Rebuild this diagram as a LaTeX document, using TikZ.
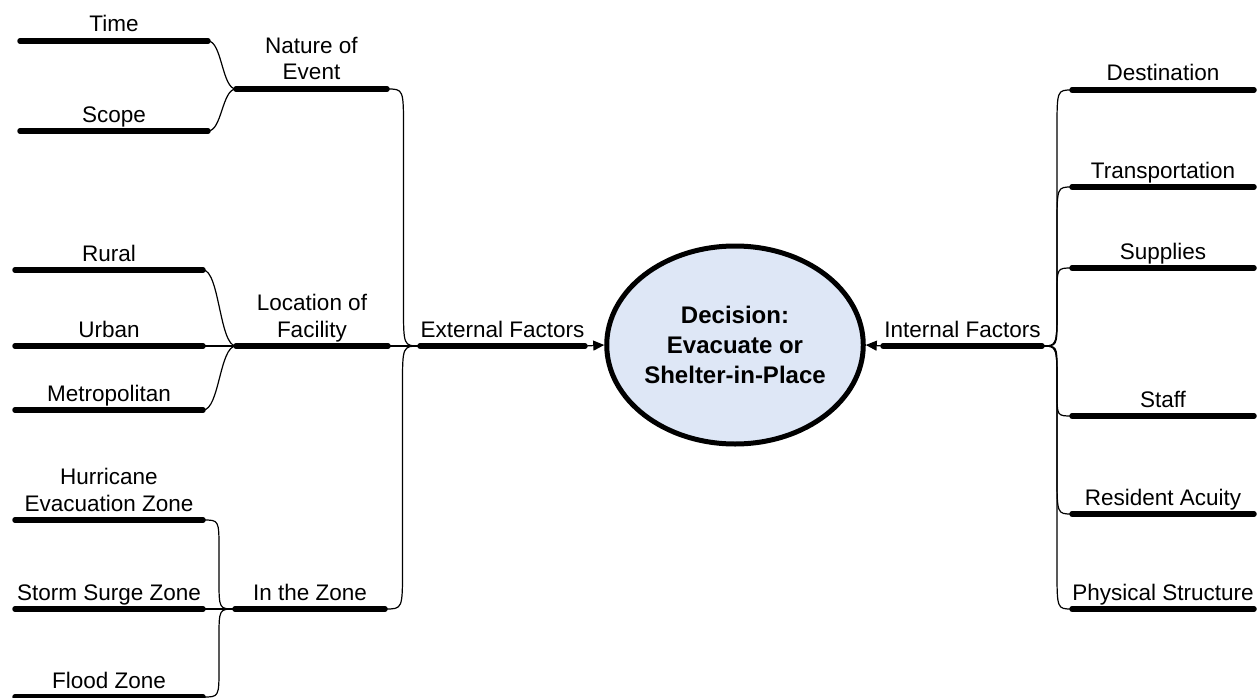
\documentclass[tikz,border=0pt]{standalone}
\usepackage{fontspec}
\setmainfont{Liberation Sans}
\usetikzlibrary{arrows.meta,shapes.geometric,calc}
\definecolor{decfill}{RGB}{222,231,246}
\tikzset{
  barline/.style={line width=5.5pt, line cap=round},
  conn/.style={line width=1.2pt},
  lbl/.style={anchor=base, inner sep=0pt, align=center, font=\fontsize{22.5}{26.5}\selectfont},
  decision/.style={ellipse, draw, line width=5pt, fill=decfill, minimum width=239pt, minimum height=198pt, inner sep=0pt, align=center, font=\fontsize{24}{30}\selectfont\bfseries},
  tiparrow/.style={-{Triangle[length=11pt,width=10pt]}}
}
\newcommand\mkbar[5]{%
  \coordinate (#1-l) at (#2,#4);
  \coordinate (#1-r) at (#3,#4);
  \draw[barline] (#1-l) -- (#1-r);
  \node[lbl] (#1) at ({(#2+#3)/2},{#4-9}) {#5};
}
% short S-curve connector
\newcommand\mklink[2]{%
  \draw[conn] let \p1=(#1), \p2=(#2), \n1={(\x1+\x2)/2} in
    (\p1) .. controls (\n1,\y1) and (\n1,\y2) .. (\p2);}
% connector with a vertical run
\newcommand\mklinkb[2]{%
  \draw[conn] let \p1=(#1), \p2=(#2),
    \n1={(\x1+\x2)/2},
    \n2={max(-40,min(40,(\y2-\y1)/3))} in
    (\p1) .. controls (\n1,\y1) .. ({\n1},{\y1+\n2})
    -- ({\n1},{\y2-\n2}) .. controls (\n1,\y2) .. (\p2);}
\begin{document}
\begin{tikzpicture}[x=1pt,y=-1pt]
\useasboundingbox (0,0) rectangle (1260,698);
% left column
\mkbar{time}{20}{208}{41}{Time}
\mkbar{scope}{20}{208}{131}{Scope}
\mkbar{rural}{15}{203}{270}{Rural}
\mkbar{urban}{15}{203}{346}{Urban}
\mkbar{metro}{15}{203}{410}{Metropolitan}
\mkbar{hurr}{15}{203}{520}{Hurricane\\Evacuation Zone}
\mkbar{storm}{15}{203}{609}{Storm Surge Zone}
\mkbar{flood}{15}{203}{697}{Flood Zone}
% middle column
\mkbar{nature}{236}{387}{89}{Nature of\\Event}
\mkbar{loc}{236}{388}{346}{Location of\\Facility}
\mkbar{zone}{235}{385}{609}{In the Zone}
\mkbar{ext}{420}{585}{346}{External Factors}
\mkbar{int}{883}{1042}{346}{Internal Factors}
% right column
\mkbar{dest}{1072}{1254}{90}{Destination}
\mkbar{trans}{1072}{1254}{187}{Transportation}
\mkbar{sup}{1072}{1254}{268}{Supplies}
\mkbar{staff}{1072}{1254}{416}{Staff}
\mkbar{res}{1072}{1254}{514}{Resident Acuity}
\mkbar{phys}{1072}{1254}{609}{Physical Structure}
% decision
\node[decision] (dec) at (735,345) {Decision:\\Evacuate or\\Shelter-in-Place};
% connectors
\mklink{time-r}{nature-l}
\mklink{scope-r}{nature-l}
\mklink{rural-r}{loc-l}
\mklink{urban-r}{loc-l}
\mklink{metro-r}{loc-l}
\mklinkb{hurr-r}{zone-l}
\mklink{storm-r}{zone-l}
\mklinkb{flood-r}{zone-l}
\mklinkb{nature-r}{ext-l}
\mklink{loc-r}{ext-l}
\mklinkb{zone-r}{ext-l}
\mklinkb{int-r}{dest-l}
\mklinkb{int-r}{trans-l}
\mklinkb{int-r}{sup-l}
\mklinkb{int-r}{staff-l}
\mklinkb{int-r}{res-l}
\mklinkb{int-r}{phys-l}
\draw[conn,tiparrow] (ext-r) -- (dec.west);
\draw[conn,tiparrow] (int-l) -- (dec.east);
\end{tikzpicture}
\end{document}
